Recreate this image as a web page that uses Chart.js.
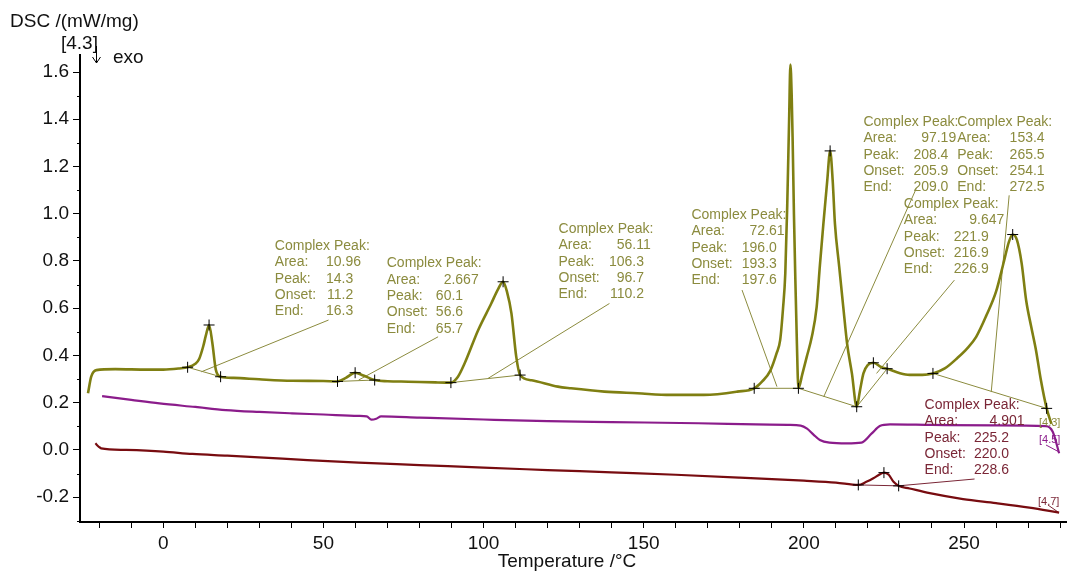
<!DOCTYPE html>
<html><head><meta charset="utf-8">
<script src="https://cdn.jsdelivr.net/npm/chart.js@4/dist/chart.umd.min.js"></script>
<style>html,body{margin:0;padding:0;background:#fff;overflow:hidden}canvas{display:block}</style>
</head><body>
<canvas id="c" width="1073" height="573"></canvas>
<script>
// ---- data ----
const greenTemp = [-23.5,-22.5,-20.9,-15,-5,0,5,7.6,10,11.2,12.5,13.3,14.3,15.3,16.4,17.9,22,29.9,40.2,50,54.4,57,59.9,62.5,66,70,76.5,85,89.8,92,94.1,98.3,102.4,104.5,106.1,107.3,108.7,110.2,111.4,115,123.2,127.3,137.7,148,158.4,168.8,179.2,184.5,187,189.5,191.5,192.6,193.5,194.2,194.8,195.4,195.8,196.2,196.5,196.9,197.3,197.8,198.3,199.5,200.9,202.5,204,205,206.1,207.3,208.2,209,209.7,211,212.3,213.5,215,216.5,217.5,218.6,220,221.7,224.3,226,230,233,237,240.3,244,248,251,253.8,257,260,262.5,264,265.2,266.5,268,269.4,271,272.5,274,275.8,277.3];
const greenDSC  = [0.24,0.31,0.338,0.342,0.34,0.34,0.345,0.35,0.365,0.385,0.44,0.485,0.529,0.455,0.34,0.31,0.305,0.299,0.293,0.292,0.29,0.305,0.327,0.315,0.296,0.291,0.289,0.286,0.285,0.31,0.367,0.507,0.62,0.68,0.712,0.67,0.578,0.395,0.317,0.295,0.268,0.261,0.247,0.24,0.233,0.233,0.247,0.261,0.29,0.335,0.41,0.465,0.6,0.747,1.03,1.4,1.632,1.5,1.31,1.0,0.747,0.465,0.261,0.32,0.394,0.48,0.606,0.78,0.958,1.14,1.266,1.14,0.958,0.78,0.606,0.45,0.324,0.183,0.25,0.324,0.36,0.369,0.35,0.344,0.325,0.318,0.318,0.324,0.345,0.39,0.43,0.479,0.57,0.67,0.8,0.88,0.912,0.89,0.79,0.634,0.52,0.42,0.296,0.176,0.11];

const purpleTemp = [-19.1,-10,-1.2,10,19.5,30,40.2,50,60.9,63.5,65,66.5,68,80,100,120,140,167,185,195,199,201,203,205,208,213.4,218,221.2,223.7,226.9,240,260,275.6,277.7,279.7];
const purpleDSC  = [0.228,0.212,0.197,0.182,0.169,0.161,0.155,0.15,0.144,0.142,0.128,0.132,0.142,0.137,0.129,0.122,0.118,0.113,0.108,0.106,0.103,0.09,0.065,0.042,0.031,0.028,0.031,0.07,0.101,0.108,0.106,0.104,0.101,0.077,-0.014];

const redTemp = [-21.2,-20,-19.4,-11.6,0,9.1,20,29.9,45,61,80,100,120,140,160,180,200,210,217,219.5,221.7,223.5,225,226.5,228,229.6,233,239.3,249.7,260,270.4,279.7];
const redDSC  = [0.028,0.012,0.007,0.0,-0.007,-0.017,-0.024,-0.031,-0.043,-0.054,-0.064,-0.075,-0.085,-0.095,-0.105,-0.117,-0.13,-0.138,-0.148,-0.135,-0.12,-0.105,-0.096,-0.105,-0.135,-0.152,-0.163,-0.183,-0.208,-0.225,-0.244,-0.265];

// evaluation markers (+)
const greenMarkTemp = [7.6,14.3,17.9,54.4,59.9,66,89.8,106.1,111.4,184.5,198.3,208.2,216.5,221.7,226,240.3,265.2,275.8];
const greenMarkDSC  = [0.35,0.529,0.31,0.29,0.327,0.296,0.285,0.712,0.317,0.261,0.261,1.266,0.183,0.369,0.344,0.324,0.912,0.176];
const redMarkTemp = [217,225,229.6];
const redMarkDSC  = [-0.148,-0.096,-0.152];

// peak evaluation tables
const peakArea  = ['10.96','2.667','56.11','72.61','97.19','153.4','9.647','4.901'];
const peakPeak  = ['14.3','60.1','106.3','196.0','208.4','265.5','221.9','225.2'];
const peakOnset = ['11.2','56.6','96.7','193.3','205.9','254.1','216.9','220.0'];
const peakEnd   = ['16.3','65.7','110.2','197.6','209.0','272.5','226.9','228.6'];
const tableTemp = [34.84,69.77,123.4,164.9,218.6,247.9,231.2,237.7];
const tableDSC  = [0.8626,0.7894,0.9345,0.9937,1.388,1.388,1.040,0.190];

// leader lines and baselines (green evaluations)
const guideFromTemp = [51.6,85.8,139.3,180.7,235.1,264.1,247,7.6,54.4,89.8,184.5,198.3,216.5,240.3];
const guideFromDSC  = [0.55,0.479,0.62,0.677,1.107,1.078,0.719,0.35,0.29,0.285,0.261,0.261,0.183,0.324];
const guideToTemp   = [11.9,61,101.4,191.6,206.2,258.5,222.7,17.9,66,111.4,198.3,216.5,226,275.8];
const guideToDSC    = [0.331,0.296,0.303,0.268,0.225,0.245,0.324,0.31,0.296,0.317,0.261,0.183,0.344,0.176];
// red evaluation lines
const redGuideFromTemp = [253.3,217,276.2];
const redGuideFromDSC  = [-0.123,-0.148,-0.233];
const redGuideToTemp   = [229.5,229.6,279.6];
const redGuideToDSC    = [-0.152,-0.152,-0.265];
const purpleGuideFromTemp = [275.6];
const purpleGuideFromDSC  = [0.021];
const purpleGuideToTemp   = [279.6];
const purpleGuideToDSC    = [-0.008];

// segment end tags
const tagText = ['[4.3]','[4.5]','[4.7]'];
const tagTemp = [273.4,273.4,273.1];
const tagDSC  = [0.114,0.042,-0.22];

// ---- helpers ----
const zip = (a,b) => a.map((v,i)=>({x:v,y:b[i]}));
const segs = (ft,fv,tt,tv) => { const out=[]; ft.forEach((v,i)=>{ out.push({x:v,y:fv[i]},{x:tt[i],y:tv[i]},{x:tt[i],y:null}); }); return out; };

const OLIVE='#7f7f12', OLIVE_TXT='#8b8b3e', PURPLE='#8b1c8b', RED='#780c10', RED_TXT='#7a2636';
const FONT='"Liberation Sans", Arial, sans-serif';

const decOff=[66.7,64.7,73.8,73.7,73.3,75.7,73.2,72.7];

const overlay = {
  id:'overlay',
  afterDraw(chart){
    const ctx=chart.ctx, xs=chart.scales.x, ys=chart.scales.y, ca=chart.chartArea;
    ctx.save();
    // minor y ticks
    ctx.strokeStyle='#000'; ctx.lineWidth=1;
    const majors=ys.ticks.map(t=>t.value);
    const minors=[];
    for(let i=0;i<majors.length-1;i++) minors.push((majors[i]+majors[i+1])/2);
    minors.push(majors[0]-0.1);
    minors.forEach(v=>{ if(v<ys.min||v>ys.max) return; const py=Math.round(ys.getPixelForValue(v))+0.5; ctx.beginPath(); ctx.moveTo(ca.left-3,py); ctx.lineTo(ca.left,py); ctx.stroke(); });

    // axis titles
    ctx.fillStyle='#111'; ctx.textBaseline='middle'; ctx.textAlign='left';
    ctx.font='19px '+FONT;
    ctx.fillText('DSC /(mW/mg)', 10, 22);
    ctx.fillText('[4.3]', 61, 44);
    ctx.fillText('exo', 113, 58);
    ctx.beginPath(); ctx.moveTo(96.5,46); ctx.lineTo(96.5,63); ctx.moveTo(92.5,57); ctx.lineTo(96.5,63); ctx.lineTo(100.5,57); ctx.stroke();
    ctx.textAlign='center';
    ctx.fillText('Temperature /°C', 567, 562);

    // peak tables
    const rows=['Complex Peak:','Area:','Peak:','Onset:','End:'];
    const LH=16.3;
    ctx.font='14px '+FONT; ctx.textAlign='left';
    for(let i=0;i<tableTemp.length;i++){
      const x0=xs.getPixelForValue(tableTemp[i]), y0=ys.getPixelForValue(tableDSC[i]);
      ctx.fillStyle = (i===7)?RED_TXT:OLIVE_TXT;
      ctx.fillText(rows[0], x0, y0);
      const vals=[peakArea[i],peakPeak[i],peakOnset[i],peakEnd[i]];
      for(let r=1;r<5;r++){
        const y=y0+r*LH;
        ctx.fillText(rows[r], x0, y);
        const s=vals[r-1]; const ip=s.split('.')[0];
        ctx.fillText(s, x0+decOff[i]-ctx.measureText(ip).width, y);
      }
    }
    // end tags
    ctx.font='11px '+FONT;
    const tagCol=[OLIVE_TXT,PURPLE,RED_TXT];
    for(let i=0;i<tagText.length;i++){
      ctx.fillStyle=tagCol[i];
      ctx.fillText(tagText[i], xs.getPixelForValue(tagTemp[i]), ys.getPixelForValue(tagDSC[i]));
    }
    ctx.restore();
  }
};

new Chart(document.getElementById('c'), {
  type:'line',
  data:{datasets:[
    {label:'marks', data:zip(greenMarkTemp,greenMarkDSC).concat(zip(redMarkTemp,redMarkDSC)), showLine:false, pointStyle:'cross', pointRadius:5.5, pointBorderColor:'#000', pointBorderWidth:1, order:0},
    {label:'green', data:zip(greenTemp,greenDSC), borderColor:OLIVE, borderWidth:2.6, pointRadius:0, cubicInterpolationMode:'monotone', order:1},
    {label:'purple', data:zip(purpleTemp,purpleDSC), borderColor:PURPLE, borderWidth:2.2, pointRadius:0, cubicInterpolationMode:'monotone', order:2},
    {label:'red', data:zip(redTemp,redDSC), borderColor:RED, borderWidth:2.2, pointRadius:0, cubicInterpolationMode:'monotone', order:3},
    {label:'guides', data:segs(guideFromTemp,guideFromDSC,guideToTemp,guideToDSC), borderColor:OLIVE_TXT, borderWidth:1, pointRadius:0, tension:0, spanGaps:false, order:4},
    {label:'redGuides', data:segs(redGuideFromTemp,redGuideFromDSC,redGuideToTemp,redGuideToDSC), borderColor:RED_TXT, borderWidth:1, pointRadius:0, tension:0, spanGaps:false, order:5},
    {label:'purpleGuides', data:segs(purpleGuideFromTemp,purpleGuideFromDSC,purpleGuideToTemp,purpleGuideToDSC), borderColor:PURPLE, borderWidth:1, pointRadius:0, tension:0, spanGaps:false, order:6}
  ]},
  options:{
    responsive:false, animation:false, events:[],
    plugins:{legend:{display:false}, tooltip:{enabled:false}},
    layout:{padding:{left:0,top:55,right:2,bottom:0}},
    scales:{
      x:{type:'linear', min:-26, max:282,
        afterFit(s){ s.height=51; },
        afterBuildTicks(s){ s.ticks=s.ticks.filter(t=>Math.abs(t.value/10-Math.round(t.value/10))<1e-6); },
        ticks:{stepSize:10, includeBounds:false, autoSkip:false, maxRotation:0, color:'#111', padding:4, font:{size:19,family:FONT},
          callback:v=>{ const r=Math.round(v); return r%50===0?String(r):''; }},
        grid:{drawOnChartArea:false, drawTicks:true, tickLength:6, color:'#000', lineWidth:1},
        border:{display:true, color:'#000', width:2}
      },
      y:{type:'linear', min:-0.305, max:1.672,
        afterFit(s){ s.width=80; },
        afterBuildTicks(s){ s.ticks=s.ticks.filter(t=>Math.abs(t.value*5-Math.round(t.value*5))<1e-6); },
        ticks:{stepSize:0.2, includeBounds:false, color:'#111', padding:4, font:{size:19,family:FONT}, callback:v=>v.toFixed(1)},
        grid:{drawOnChartArea:false, drawTicks:true, tickLength:7, color:'#000', lineWidth:1},
        border:{display:true, color:'#000', width:2}
      }
    }
  },
  plugins:[overlay]
});
</script>
</body></html>
